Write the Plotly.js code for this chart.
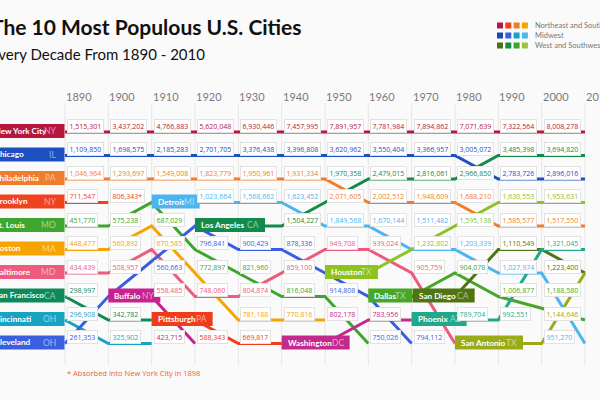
<!DOCTYPE html>
<html><head><meta charset="utf-8">
<script src="https://cdn.plot.ly/plotly-3.0.1.min.js"></script>
<style>html,body{margin:0;padding:0;background:#fafafa}</style>
</head><body><div id="chart" style="width:600px;height:400px"></div>
<script>
// ---------------- DATA ----------------
const decades = [1890,1900,1910,1920,1930,1940,1950,1960,1970,1980,1990,2000,2010];
const cityKeys = ['NYC','CHI','PHI','BKN','STL','BOS','BAL','SF','CIN','CLE','DET','LA','BUF','PIT','WAS','HOU','DAL','SD','PHX','SA'];
const cityNames = {NYC:'New York City',CHI:'Chicago',PHI:'Philadelphia',BKN:'Brooklyn',STL:'St. Louis',BOS:'Boston',BAL:'Baltimore',SF:'San Francisco',CIN:'Cincinnati',CLE:'Cleveland',DET:'Detroit',LA:'Los Angeles',BUF:'Buffalo',PIT:'Pittsburgh',WAS:'Washington',HOU:'Houston',DAL:'Dallas',SD:'San Diego',PHX:'Phoenix',SA:'San Antonio'};
const cityStates = {NYC:'NY',CHI:'IL',PHI:'PA',BKN:'NY',STL:'MO',BOS:'MA',BAL:'MD',SF:'CA',CIN:'OH',CLE:'OH',DET:'MI',LA:'CA',BUF:'NY',PIT:'PA',WAS:'DC',HOU:'TX',DAL:'TX',SD:'CA',PHX:'AZ',SA:'TX'};
const N = null;
// rank of each city's line at each decade column
const rankNYC = [1,1,1,1,1,1,1,1,1,1,1,1,1];
const rankCHI = [2,2,2,2,2,2,2,2,2,2,3,3,3];
const rankPHI = [3,3,3,3,3,3,3,4,4,4,5,5,5];
const rankBKN = [4,4,N,N,N,N,N,N,N,N,N,N,N];
const rankSTL = [5,5,4,6,7,8,8,10,N,N,N,N,N];
const rankBOS = [6,6,5,7,9,9,9,N,N,N,N,N,N];
const rankBAL = [7,7,6,8,8,7,6,6,7,10,N,N,N];
const rankSF  = [8,9,9,N,N,N,N,N,N,N,N,N,N];
const rankCIN = [9,10,10,N,N,N,N,N,N,N,N,N,N];
const rankCLE = [10,8,6.5,5,6,6,7,8,10,N,N,N,N];
const rankDET = [N,N,4,4,4,4,5,5,6,6,7,7,10];
const rankLA  = [N,N,N,5,5,5,4,3,3,3,2,2,2];
const rankBUF = [N,8,8,10,N,N,N,N,N,N,N,N,N];
const rankPIT = [N,N,9,9,10,10,N,N,N,N,N,N,N];
const rankWAS = [N,N,N,N,N,10,10,9,9,N,N,N,N];
const rankHOU = [N,N,N,N,N,N,7,7,6,5,4,4,4];
const rankDAL = [N,N,N,N,N,N,N,8,8,7,8,8.5,9];
const rankSD  = [N,N,N,N,N,N,N,N,8,8,6,6,7];
const rankPHX = [N,N,N,N,N,N,N,N,9,9,9,6,6];
const rankSA  = [N,N,N,N,N,N,N,N,N,10,10,10,7];
const ranks = {NYC:rankNYC,CHI:rankCHI,PHI:rankPHI,BKN:rankBKN,STL:rankSTL,BOS:rankBOS,BAL:rankBAL,SF:rankSF,CIN:rankCIN,CLE:rankCLE,DET:rankDET,LA:rankLA,BUF:rankBUF,PIT:rankPIT,WAS:rankWAS,HOU:rankHOU,DAL:rankDAL,SD:rankSD,PHX:rankPHX,SA:rankSA};

// population labels shown in each column, rows 1..10 (null = covered)
const pop1890 = ['1,515,301','1,109,850','1,046,964','711,547','451,770','448,477','434,439','298,997','296,908','261,353'];
const who1890 = ['NYC','CHI','PHI','BKN','STL','BOS','BAL','SF','CIN','CLE'];
const pop1900 = ['3,437,202','1,698,575','1,293,697','806,343*','575,238','560,892','508,957',N,'342,782','325,902'];
const who1900 = ['NYC','CHI','PHI','BKN','STL','BOS','BAL',N,'SF','CIN'];
const pop1910 = ['4,766,883','2,185,283','1,549,008',N,'687,029','670,585','560,663','558,485',N,'423,715'];
const who1910 = ['NYC','CHI','PHI',N,'STL','BOS','CLE','BAL',N,'BUF'];
const pop1920 = ['5,620,048','2,701,705','1,823,779','1,023,664',N,'796,841','772,897','748,060',N,'588,343'];
const who1920 = ['NYC','CHI','PHI','DET',N,'CLE','STL','BAL',N,'PIT'];
const pop1930 = ['6,930,446','3,376,438','1,950,961','1,568,662',N,'900,429','821,960','804,874','781,188','669,817'];
const who1930 = ['NYC','CHI','PHI','DET',N,'CLE','STL','BAL','BOS','PIT'];
const pop1940 = ['7,457,995','3,396,808','1,931,334','1,623,452','1,504,227','878,336','859,100','816,048','770,816',N];
const who1940 = ['NYC','CHI','PHI','DET','LA','CLE','BAL','STL','BOS',N];
const pop1950 = ['7,891,957','3,620,962','1,970,358','2,071,605','1,849,568','949,708',N,'914,808','802,178',N];
const who1950 = ['NYC','CHI','LA','PHI','DET','BAL',N,'CLE','WAS',N];
const pop1960 = ['7,781,984','3,550,404','2,479,015','2,002,512','1,670,144','939,024',N,N,'783,956','750,026'];
const who1960 = ['NYC','CHI','LA','PHI','DET','BAL',N,N,'WAS','CLE'];
const pop1970 = ['7,894,862','3,366,957','2,816,061','1,948,609','1,511,482','1,232,802','905,759',N,N,'794,112'];
const who1970 = ['NYC','CHI','LA','PHI','DET','HOU','BAL',N,N,'CLE'];
const pop1980 = ['7,071,639','3,005,072','2,966,850','1,688,210','1,595,138','1,203,339','904,078',N,'789,704',N];
const who1980 = ['NYC','CHI','LA','PHI','HOU','DET','DAL',N,'PHX',N];
const pop1990 = ['7,322,564','3,485,398','2,783,726','1,630,553','1,585,577','1,110,549','1,027,974','1,006,877','992,551',N];
const who1990 = ['NYC','LA','CHI','HOU','PHI','SD','DET','DAL','PHX',N];
const pop2000 = ['8,008,278','3,694,820','2,896,016','1,953,631','1,517,550','1,321,045','1,223,400','1,188,580','1,144,646','951,270'];
const who2000 = ['NYC','LA','CHI','HOU','PHI','PHX','SD','DAL','SA','DET'];
const popCols = [pop1890,pop1900,pop1910,pop1920,pop1930,pop1940,pop1950,pop1960,pop1970,pop1980,pop1990,pop2000];
const whoCols = [who1890,who1900,who1910,who1920,who1930,who1940,who1950,who1960,who1970,who1980,who1990,who2000];

// city name tags: first column cities, and cities entering later (decade, row)
const firstCities = ['NYC','CHI','PHI','BKN','STL','BOS','BAL','SF','CIN','CLE'];
const entrantCity = ['BUF','DET','PIT','LA','WAS','HOU','DAL','SD','PHX','SA'];
const entrantDecade = [1900,1910,1910,1920,1940,1950,1960,1970,1970,1980];
const entrantRow = [8,4,9,5,10,7,8,8,9,10];

const titleText = 'The 10 Most Populous U.S. Cities';
const subtitleText = 'Every Decade From 1890 - 2010';
const footnoteText = '* Absorbed into New York City in 1898';
const legendGroups = ['Northeast and Southeast','Midwest','West and Southwest'];

// ---------------- STYLE ----------------
const colors = {NYC:'#b5173f',CHI:'#1c4fbf',PHI:'#f07d2b',BKN:'#f0421c',STL:'#3da62d',BOS:'#f6a400',BAL:'#ee5b7e',SF:'#0e8a5a',CIN:'#18a3c5',CLE:'#3a5ee0',DET:'#4cb4ee',LA:'#128a4b',BUF:'#c8228e',PIT:'#ef3d1c',WAS:'#c42a8e',HOU:'#8dc21f',DAL:'#47a828',SD:'#4f7412',PHX:'#1fa98c',SA:'#9aab17'};
const legendColors = [['#b5173f','#e8431c','#f07c2a','#f6a500'],['#1b46b8','#3a5fe0','#14a3c7','#4cb6ef'],['#4f6f13','#138a4a','#3ea62a','#9dc23b']];
const tagWidth = {BUF:52,DET:48,PIT:61,LA:70,WAS:68,HOU:53,DAL:44,SD:62,PHX:55,SA:68};
const tagOffset = {SD:1};

// pixel mapping helpers (margins are zero, so paper = page)
const W=600,H=400;
const X0PX=65, XSTEP=43.33, Y0PX=132, YSTEP=23.5;
const xr=[1890-X0PX/XSTEP*10, 1890+(W-X0PX)/XSTEP*10];
const yr=[1+(H-Y0PX)/YSTEP, 1-Y0PX/YSTEP];
const dx = px => px/XSTEP*10;
const dy = px => px/YSTEP;
const pxX = px => 1890+dx(px-X0PX);   // page px -> x value
const pxY = py => 1+dy(py-Y0PX);      // page px -> y value

const traces=[];
cityKeys.forEach(k=>{
  traces.push({type:'scatter',mode:'lines',x:decades,y:ranks[k],connectgaps:false,
    line:{color:colors[k],width:3},hoverinfo:'skip',showlegend:false});
});

const shapes=[], ann=[];
const TAGFONT=8.2;
// vertical grid lines
decades.forEach(d=>{
  shapes.push({type:'line',xref:'x',yref:'y',x0:d,x1:d,y0:pxY(103),y1:pxY(365),
    line:{color:'#e6e6e6',width:1},layer:'below'});
  ann.push({xref:'x',yref:'paper',x:d,y:1-96/H,xanchor:'left',yanchor:'middle',text:String(d),showarrow:false,
    xshift:-1,font:{family:'Lato',size:11,color:'#7a7a7a'}});
});
// population labels
popCols.forEach((col,ci)=>{
  col.forEach((t,ri)=>{
    if(t===null) return;
    const k=whoCols[ci][ri];
    ann.push({xref:'x',yref:'y',x:decades[ci]+dx(2),y:ri+1-dy(6.5),xanchor:'left',yanchor:'middle',
      text:t,showarrow:false,bgcolor:'#ffffff',bordercolor:'#e2e2e2',borderwidth:1,borderpad:1.5,
      font:{family:'Open Sans',size:7,color:colors[k]}});
  });
});
function tagBox(k,xl,xrgt,row,layer){
  shapes.push({type:'rect',xref:'x',yref:'y',x0:xl,x1:xrgt,y0:row-dy(1)-dy(7),y1:row-dy(1)+dy(7),
    fillcolor:colors[k],line:{width:0},layer:layer});
}
function tagState(k,xrgt,row){
  ann.push({xref:'x',yref:'y',x:xrgt-dx(4),y:row-dy(1),xanchor:'right',yanchor:'middle',text:cityStates[k],
    showarrow:false,font:{family:'Lato',size:TAGFONT+0.3,color:'rgba(255,255,255,0.55)'}});
}
firstCities.forEach((k,i)=>{
  tagBox(k,pxX(-10),1890-dx(0.5),i+1,'below');
  tagState(k,1890-dx(3),i+1);
});
// first-column names: text trace so that the left edge is cut by the page like the original
traces.push({type:'scatter',mode:'text',cliponaxis:true,hoverinfo:'skip',showlegend:false,
  x:firstCities.map(()=>pxX(-5.5)),y:firstCities.map((k,i)=>i+1-dy(0.5)),
  text:firstCities.map(k=>'<b>'+cityNames[k]+'</b>'),textposition:'middle right',
  textfont:{family:'Lato',size:TAGFONT,color:'#ffffff'}});
entrantCity.forEach((k,i)=>{
  const d=entrantDecade[i]+dx(tagOffset[k]||0);
  const r=entrantRow[i];
  tagBox(k,d,d+dx(tagWidth[k]),r,'above');
  ann.push({xref:'x',yref:'y',x:d+dx(4),y:r-dy(1),xanchor:'left',yanchor:'middle',text:'<b>'+cityNames[k]+'</b>',
    showarrow:false,font:{family:'Lato',size:TAGFONT,color:'#ffffff'}});
  tagState(k,d+dx(tagWidth[k]),r);
});
// titles (text traces, left edge cut by page)
traces.push({type:'scatter',mode:'text',cliponaxis:true,hoverinfo:'skip',showlegend:false,
  x:[pxX(-9)],y:[pxY(30)],text:['<b>'+titleText+'</b>'],textposition:'middle right',
  textfont:{family:'Lato',size:21,color:'#111111'}});
traces.push({type:'scatter',mode:'text',cliponaxis:true,hoverinfo:'skip',showlegend:false,
  x:[pxX(-10)],y:[pxY(56)],text:[subtitleText],textposition:'middle right',
  textfont:{family:'Lato',size:15,color:'#111111'}});
ann.push({xref:'x',yref:'paper',x:1890,y:1-373/H,xanchor:'left',yanchor:'middle',showarrow:false,
  text:footnoteText,font:{family:'Open Sans',size:7.5,color:'#e8603c'}});
// legend
legendGroups.forEach((g,gi)=>{
  const cy=25.5+gi*10;
  legendColors[gi].forEach((c,ci)=>{
    const x0=497+ci*8.3;
    shapes.push({type:'rect',xref:'paper',yref:'paper',x0:x0/W,x1:(x0+6)/W,y0:1-(cy+3)/H,y1:1-(cy-3)/H,
      fillcolor:c,line:{width:0}});
  });
  ann.push({xref:'paper',yref:'paper',x:533/W,y:1-cy/H,xanchor:'left',yanchor:'middle',showarrow:false,
    text:g,font:{family:'Lato',size:7.5,color:'#777777'}});
});

const layout={width:W,height:H,margin:{l:0,r:0,t:0,b:0},paper_bgcolor:'#fafafa',plot_bgcolor:'rgba(0,0,0,0)',
  xaxis:{range:xr,visible:false,fixedrange:true},
  yaxis:{range:yr,visible:false,fixedrange:true},
  shapes:shapes,annotations:ann,showlegend:false};
Plotly.newPlot('chart',traces,layout,{displayModeBar:false,staticPlot:true});
</script></body></html>
